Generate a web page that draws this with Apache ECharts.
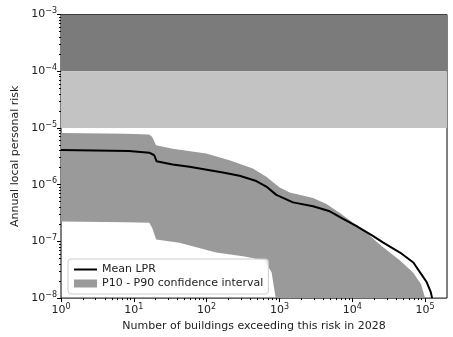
<!DOCTYPE html>
<html>
<head>
<meta charset="utf-8">
<script src="https://cdn.jsdelivr.net/npm/echarts@6/dist/echarts.min.js"></script>
<style>
  body { margin: 0; background: #fff; }
  #main { width: 453px; height: 337px; }
</style>
</head>
<body>
<div id="main"></div>
<script>
// mean curve (number of buildings, annual risk)
const meanN = [1, 8.6, 16.3, 19.1, 20.5, 34.1, 58, 167, 283, 481, 660, 906, 1535, 2893, 4914, 7496, 11460, 19400, 26650, 45250, 69000, 85300, 105500, 119800, 124900]
const meanRisk = [4.10e-6, 3.91e-6, 3.67e-6, 3.30e-6, 2.59e-6, 2.27e-6, 2.07e-6, 1.64e-6, 1.44e-6, 1.16e-6, 9.27e-7, 6.61e-7, 4.87e-7, 4.15e-7, 3.39e-7, 2.49e-7, 1.86e-7, 1.24e-7, 9.5e-8, 6.35e-8, 4.25e-8, 2.84e-8, 1.90e-8, 1.27e-8, 1.0e-8]

// P90 (upper edge of the band)
const p90N = [1, 7.86, 16.3, 17.9, 20.2, 34.1, 98.4, 206, 431, 660, 1006, 1382, 2893, 4426, 6745, 10290, 15740, 23990, 45250, 68340, 88100, 100000]
const p90Risk = [8.11e-6, 7.89e-6, 7.67e-6, 6.91e-6, 4.93e-6, 4.31e-6, 3.53e-6, 2.70e-6, 1.93e-6, 1.38e-6, 8.89e-7, 7.28e-7, 5.79e-7, 4.55e-7, 3.17e-7, 2.12e-7, 1.42e-7, 8.75e-8, 4.60e-8, 2.84e-8, 1.76e-8, 1.0e-8]

// P10 (lower edge of the band)
const p10N = [1, 7.86, 16.3, 17.9, 20.3, 42.2, 135, 332, 625, 781, 887]
const p10Risk = [2.23e-7, 2.18e-7, 2.12e-7, 1.73e-7, 1.08e-7, 9.49e-8, 6.35e-8, 5.41e-8, 4.60e-8, 2.84e-8, 1.0e-8]

// risk bands
const bandHigh = [1e-4, 1e-3]
const bandMid = [1e-5, 1e-4]

const xMajor = [1, 10, 100, 1000, 10000, 100000]
const yMajor = [1e-8, 1e-7, 1e-6, 1e-5, 1e-4, 1e-3]

function minorTicks(lo, hi) {
    let out = []
    for (let e = lo; e < hi; e++) {
        for (let m = 2; m <= 9; m++) out.push(m * Math.pow(10, e))
    }
    return out
}

function powLabel(v) {
    let e = Math.round(Math.log10(v))
    return '{b|10}{s|' + String(e).replace('-', '\u2212') + '}'
}

const labelRich = {
    b: { fontSize: 11, color: '#222', fontFamily: 'DejaVu Sans' },
    s: { fontSize: 8, color: '#222', fontFamily: 'DejaVu Sans', padding: [0, 0, 7, 0] }
}

var myChart = echarts.init(document.getElementById('main'))

var option = {
    animation: false,
    textStyle: { fontFamily: 'DejaVu Sans' },
    grid: {
        left: 61, right: 6, top: 14.5, bottom: 36,
        show: true, borderColor: '#000', borderWidth: 1, backgroundColor: 'transparent'
    },
    legend: {
        orient: 'vertical',
        left: 68, top: 259,
        itemWidth: 23, itemHeight: 8, itemGap: 3,
        padding: [5, 5, 5, 5],
        backgroundColor: 'rgba(255,255,255,0.8)',
        borderColor: '#ccc', borderWidth: 1, borderRadius: 3,
        textStyle: { fontSize: 11, color: '#222', fontFamily: 'DejaVu Sans' },
        data: [
            { name: 'Mean LPR', itemStyle: { opacity: 0 }, lineStyle: { width: 2, color: '#000' } },
            { name: 'P10 - P90 confidence interval', icon: 'rect', itemStyle: { color: '#9a9a9a' } }
        ]
    },
    xAxis: [
        {
            type: 'log', logBase: 10, min: 1, max: 200000,
            name: 'Number of buildings exceeding this risk in 2028',
            nameLocation: 'middle', nameGap: 22,
            nameTextStyle: { fontSize: 11, color: '#222', fontFamily: 'DejaVu Sans' },
            axisLine: { show: false },
            splitLine: { show: false },
            axisTick: { show: true, length: 4, customValues: xMajor, lineStyle: { color: '#000' } },
            axisLabel: { customValues: xMajor, formatter: powLabel, rich: labelRich, margin: 5 }
        },
        {
            type: 'log', logBase: 10, min: 1, max: 200000, position: 'bottom',
            axisLine: { show: false }, splitLine: { show: false },
            axisLabel: { show: false },
            axisTick: { show: true, length: 2, customValues: minorTicks(0, 6).filter(v => v < 200000), lineStyle: { color: '#000' } }
        }
    ],
    yAxis: [
        {
            type: 'log', logBase: 10, min: 1e-8, max: 1e-3,
            name: 'Annual local personal risk',
            nameLocation: 'middle', nameGap: 38,
            nameTextStyle: { fontSize: 11, color: '#222', fontFamily: 'DejaVu Sans' },
            axisLine: { show: false },
            splitLine: { show: false },
            axisTick: { show: true, length: 4, customValues: yMajor, lineStyle: { color: '#000' } },
            axisLabel: { customValues: yMajor, formatter: powLabel, rich: labelRich, margin: 4 }
        },
        {
            type: 'log', logBase: 10, min: 1e-8, max: 1e-3, position: 'left',
            axisLine: { show: false }, splitLine: { show: false },
            axisLabel: { show: false },
            axisTick: { show: true, length: 2, customValues: minorTicks(-8, -3), lineStyle: { color: '#000' } }
        }
    ],
    series: [
        {
            name: 'bands',
            type: 'line',
            data: [],
            z: 0,
            markArea: {
                silent: true,
                data: [
                    [{ yAxis: bandHigh[0], itemStyle: { color: '#7b7b7b' } }, { yAxis: bandHigh[1] }],
                    [{ yAxis: bandMid[0], itemStyle: { color: '#c3c3c3' } }, { yAxis: bandMid[1] }]
                ]
            }
        },
        {
            name: 'P10 - P90 confidence interval',
            type: 'custom',
            z: 1,
            data: [[1, 1e-6]],
            renderItem: function (params, api) {
                let pts = []
                for (let i = 0; i < p90N.length; i++) pts.push(api.coord([p90N[i], p90Risk[i]]))
                for (let i = p10N.length - 1; i >= 0; i--) pts.push(api.coord([p10N[i], p10Risk[i]]))
                return {
                    type: 'polygon',
                    shape: { points: pts },
                    style: { fill: '#9a9a9a' }
                }
            },
            itemStyle: { color: '#9a9a9a' }
        },
        {
            name: 'Mean LPR',
            type: 'line',
            z: 3,
            symbol: 'none',
            color: '#000',
            lineStyle: { color: '#000', width: 2 },
            data: meanN.map((n, i) => [n, meanRisk[i]])
        }
    ]
}

myChart.setOption(option)
</script>
</body>
</html>
